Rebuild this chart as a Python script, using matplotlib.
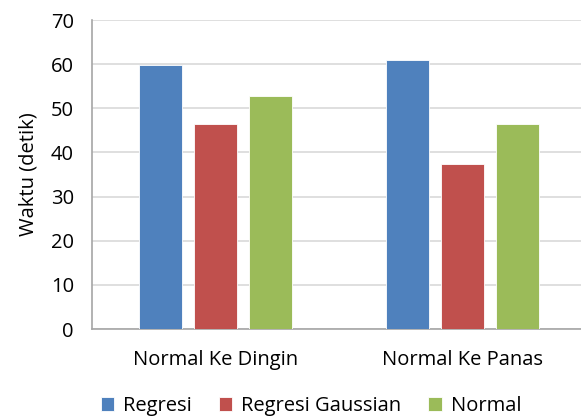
import numpy as np
import matplotlib
matplotlib.use("Agg")
from matplotlib import pyplot as plt

categories = ["Normal Ke Dingin", "Normal Ke Panas"]
series_names = ["Regresi", "Regresi Gaussian", "Normal"]
regresi = [59.7, 60.9]
regresi_gaussian = [46.4, 37.3]
normal = [52.8, 46.4]
colors = ["#4F81BD", "#C0504D", "#9BBB59"]

plt.rcParams['font.family'] = ['Open Sans', 'DejaVu Sans']

W, H = 581, 419
fig = plt.figure(figsize=(W / 100, H / 100), dpi=100)
ax = fig.add_axes([92 / W, 1 - 329 / H, 494 / W, 309 / H])

x = np.arange(len(categories))
width = 0.174
step = 0.223
for i, (vals, name) in enumerate(zip([regresi, regresi_gaussian, normal], series_names)):
    ax.bar(x + (i - 1) * step, vals, width, color=colors[i], label=name,
           edgecolor="white", linewidth=0.6, zorder=3)

ax.set_xlim(-0.5, 1.5)
ax.set_ylim(0, 70)
ax.set_yticks(range(0, 71, 10))
ax.set_xticks(x)
ax.set_xticklabels(categories)
ax.tick_params(axis="x", length=0, labelsize=14.5, pad=15)
ax.tick_params(axis="y", length=0, labelsize=14.5, pad=13)
ax.grid(axis="y", color="#d9d9d9", linewidth=1.2, zorder=0)
for s in ["top", "right"]:
    ax.spines[s].set_visible(False)
for s in ["left", "bottom"]:
    ax.spines[s].set_color("#a6a6a6")
    ax.spines[s].set_linewidth(1.2)

ax.set_ylabel("Waktu (detik)", fontsize=14.5, labelpad=9)

fig.legend(loc="center", bbox_to_anchor=(311 / W, 1 - 406 / H), ncol=3, frameon=False,
           fontsize=14.5, handlelength=0.65, handleheight=0.65, handletextpad=0.45,
           columnspacing=1.35)

fig.savefig("out.png", dpi=100)
